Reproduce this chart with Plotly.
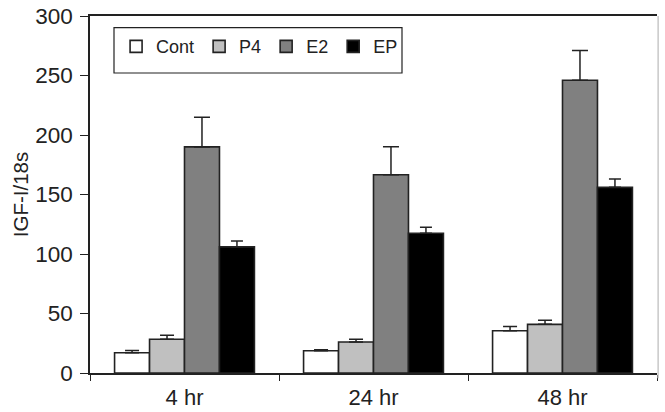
import plotly.graph_objects as go

categories = ["4 hr", "24 hr", "48 hr"]
series_names = ["Cont", "P4", "E2", "EP"]
cont_vals = [17, 18.7, 35.5]
p4_vals = [28.3, 26, 40.9]
e2_vals = [190, 166.6, 246]
ep_vals = [106, 117.4, 156]
cont_err = [2, 0.8, 3.5]
p4_err = [3.5, 2.3, 3.5]
e2_err = [25, 23.6, 25]
ep_err = [5, 5, 7]
colors = ["#ffffff", "#c0c0c0", "#808080", "#000000"]
cap_widths = [7, 7, 8, 6]
y_ticks = [0, 50, 100, 150, 200, 250, 300]

values = [cont_vals, p4_vals, e2_vals, ep_vals]
errors = [cont_err, p4_err, e2_err, ep_err]

FONT = "Liberation Sans, Arial, sans-serif"
INK = "#222222"

fig = go.Figure()
for name, v, e, c, w in zip(series_names, values, errors, colors, cap_widths):
    fig.add_trace(go.Bar(
        x=categories, y=v, name=name,
        marker=dict(color=c, line=dict(color=INK, width=1.6)),
        error_y=dict(type="data", array=e, arrayminus=[0] * len(e),
                     symmetric=False, color=INK, thickness=1.5, width=w),
    ))

fig.update_layout(
    template="none",
    width=665, height=412,
    margin=dict(l=90, r=8, t=16, b=39, autoexpand=False),
    paper_bgcolor="white", plot_bgcolor="white",
    font=dict(family=FONT, size=22, color=INK),
    barmode="group", bargap=0.26, bargroupgap=0,
    showlegend=True,
    legend=dict(orientation="h", x=0.046, y=0.966, xanchor="left", yanchor="top",
                bgcolor="rgba(0,0,0,0)", borderwidth=0,
                font=dict(size=18, color=INK), itemwidth=30,
                traceorder="normal"),
    shapes=[
        dict(type="rect", xref="paper", yref="paper",
             x0=(114 - 90) / 567, x1=(402 - 90) / 567,
             y0=(373 - 73) / 357, y1=(373 - 27.7) / 357,
             line=dict(color=INK, width=1.2), fillcolor="rgba(0,0,0,0)", layer="below"),
        dict(type="line", xref="paper", yref="paper", x0=1.002, x1=1.002,
             y0=-0.015, y1=1, line=dict(color="#c8c8c8", width=1.5)),
    ],
)
fig.update_xaxes(
    type="category", automargin=False, showline=True, linecolor=INK, linewidth=1.5,
    mirror=True, ticks="outside", tickson="boundaries", ticklen=6, tickcolor=INK,
    tickwidth=1.2, ticklabelstandoff=4, showgrid=False, zeroline=False,
    tickfont=dict(size=22),
)
fig.update_yaxes(
    automargin=False, range=[0, 300], tickvals=y_ticks, showline=True, linecolor=INK,
    linewidth=1.5, ticks="outside", ticklen=8, tickcolor=INK, tickwidth=1.2,
    showgrid=False, zeroline=False, tickfont=dict(size=22.5), ticklabelstandoff=3,
    title=dict(text="IGF-I/18s", font=dict(size=20.5), standoff=1),
)

fig.write_html("out.html")
